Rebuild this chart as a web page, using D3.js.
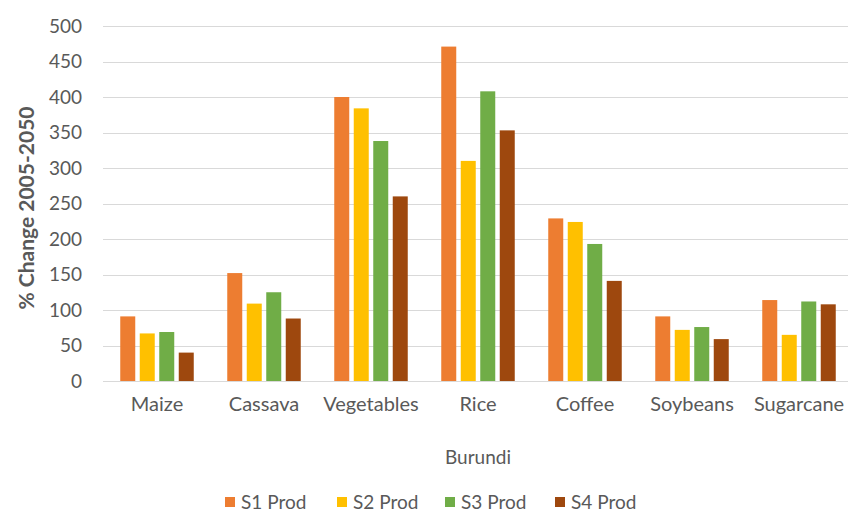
<!DOCTYPE html>
<html>
<head>
<meta charset="utf-8">
<script src="https://cdn.jsdelivr.net/npm/d3@7"></script>
<style>
  html, body { margin: 0; padding: 0; background: #fff; }
  svg text { font-family: Lato, "Open Sans", sans-serif; fill: #595959; }
</style>
</head>
<body>
<svg id="chart" width="852" height="514"></svg>
<script>
// Crops and scenario series (% change in production, 2005-2050)
const categories = ["Maize", "Cassava", "Vegetables", "Rice", "Coffee", "Soybeans", "Sugarcane"];
const seriesNames = ["S1 Prod", "S2 Prod", "S3 Prod", "S4 Prod"];
const s1Prod = [91, 152, 400, 471, 229, 91, 114];
const s2Prod = [67, 109, 384, 310, 224, 72, 65];
const s3Prod = [69, 125, 338, 408, 193, 76, 112];
const s4Prod = [40, 88, 260, 353, 141, 59, 108];
const yTicks = [0, 50, 100, 150, 200, 250, 300, 350, 400, 450, 500];
const colors = ["#ED7D31", "#FFC000", "#70AD47", "#9E480E"];
const xTitle = "Burundi";
const yTitle = "% Change 2005-2050";

const seriesValues = [s1Prod, s2Prod, s3Prod, s4Prod];
const svg = d3.select("#chart");

const plot = { left: 103, right: 848, top: 26, bottom: 381 };

const x = d3.scaleBand().domain(categories).range([103.5, 852.5]).paddingInner(0).paddingOuter(0);
const y = d3.scaleLinear().domain([0, 500]).range([plot.bottom, plot.top]);

// bars within a category: step 19.5px, width 15px (centered group)
const barStep = 19.5, barW = 15;
const xs = d3.scaleBand().domain(seriesNames)
  .range([x.bandwidth() / 2 - 2 * barStep, x.bandwidth() / 2 + 2 * barStep])
  .paddingInner((barStep - barW) / barStep).paddingOuter((barStep - barW) / barStep / 2);

// horizontal gridlines
svg.append("g")
  .selectAll("line")
  .data(yTicks)
  .join("line")
  .attr("x1", plot.left)
  .attr("x2", plot.right)
  .attr("y1", d => Math.round(y(d)) + 0.5)
  .attr("y2", d => Math.round(y(d)) + 0.5)
  .attr("stroke", "#D9D9D9")
  .attr("stroke-width", 1);

// y axis tick labels
const yAxis = d3.axisLeft(y).tickValues(yTicks).tickSize(0).tickPadding(0);
svg.append("g")
  .attr("transform", `translate(${82},0)`)
  .call(yAxis)
  .call(g => g.select(".domain").remove())
  .call(g => g.selectAll("text")
    .attr("font-size", 19)
    .style("font-family", "Lato, sans-serif")
    .attr("fill", "#595959"));

// bars
const groups = svg.append("g")
  .selectAll("g")
  .data(categories)
  .join("g")
  .attr("transform", d => `translate(${x(d)},0)`);

groups.selectAll("rect")
  .data((c, ci) => seriesNames.map((s, si) => ({ s, si, v: seriesValues[si][ci] })))
  .join("rect")
  .attr("x", d => xs(d.s))
  .attr("width", xs.bandwidth())
  .attr("y", d => y(d.v))
  .attr("height", d => y(0) - y(d.v))
  .attr("fill", d => colors[d.si]);

// x axis baseline
svg.append("line")
  .attr("x1", plot.left).attr("x2", plot.right)
  .attr("y1", plot.bottom + 0.5).attr("y2", plot.bottom + 0.5)
  .attr("stroke", "#D9D9D9");

// category labels
const xAxis = d3.axisBottom(x).tickSize(0).tickPadding(0);
svg.append("g")
  .attr("transform", `translate(0,${plot.bottom + 16})`)
  .call(xAxis)
  .call(g => g.select(".domain").remove())
  .call(g => g.selectAll("text")
    .attr("font-size", 20)
    .style("font-family", "Lato, sans-serif")
    .attr("fill", "#595959"));

// axis titles
svg.append("text")
  .attr("x", 478)
  .attr("y", 457)
  .attr("dy", "0.35em")
  .attr("text-anchor", "middle")
  .attr("font-size", 19)
  .text(xTitle);

svg.append("text")
  .attr("transform", `translate(27,208) rotate(-90)`)
  .attr("text-anchor", "middle")
  .attr("dy", "0.35em")
  .attr("font-size", 21)
  .attr("font-weight", "bold")
  .text(yTitle);

// legend
const legendX = [225, 337, 445, 555];
const legend = svg.append("g").attr("transform", "translate(0,502)");
const items = legend.selectAll("g")
  .data(seriesNames)
  .join("g")
  .attr("transform", (d, i) => `translate(${legendX[i]},0)`);
items.append("rect")
  .attr("x", 0).attr("y", -5)
  .attr("width", 10).attr("height", 10)
  .attr("fill", (d, i) => colors[i]);
items.append("text")
  .attr("x", 16)
  .attr("y", 0)
  .attr("dy", "0.35em")
  .attr("font-size", 19)
  .text(d => d);
</script>
</body>
</html>
